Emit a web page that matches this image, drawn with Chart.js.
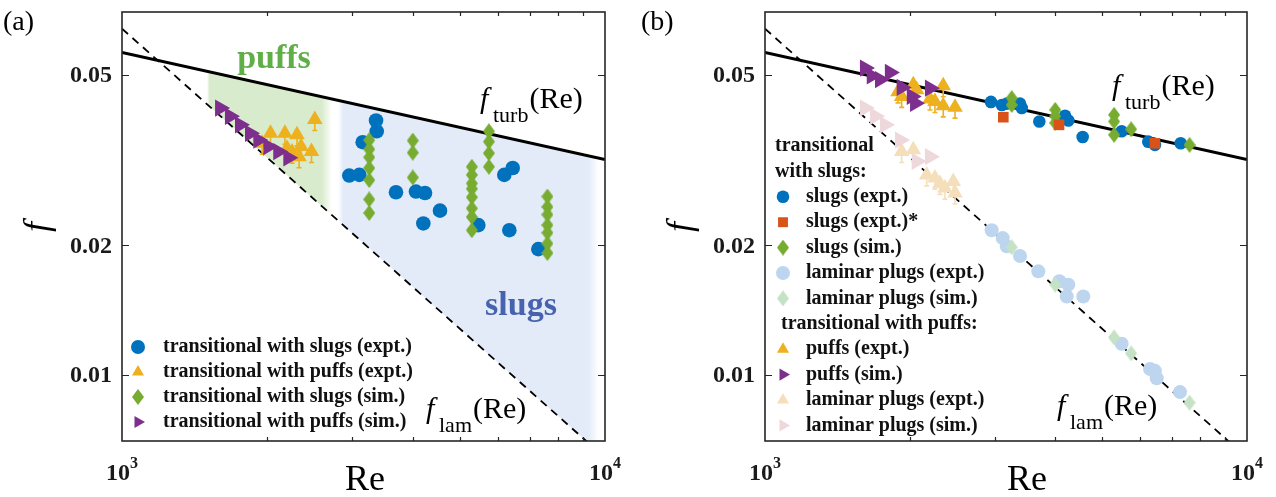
<!DOCTYPE html>
<html>
<head>
<meta charset="utf-8">
<script src="https://cdn.jsdelivr.net/npm/chart.js@4.4.1/dist/chart.umd.min.js"></script>
<style>
html, body { margin: 0; padding: 0; background: #fff; overflow: hidden; }
#wrap { position: relative; width: 1276px; height: 497px; }
canvas { position: absolute; top: 0; }
#chartA { left: 0; }
#chartB { left: 638px; }
</style>
</head>
<body>
<div id="wrap">
  <canvas id="chartA" width="638" height="497"></canvas>
  <canvas id="chartB" width="638" height="497"></canvas>
</div>
<script>
// axes (both panels are log-log with the same limits)
const reMin = 1000, reMax = 10000;
const fMin = 0.007, fMax = 0.07;
const fTicks = [0.01, 0.02, 0.05];
const fTickLabels = ['0.01', '0.02', '0.05'];
const reMajorTicks = [1000, 10000];
const reMajorLabels = [['10', '3'], ['10', '4']];
const reMinorTicks = [2000, 3000, 4000, 5000, 6000, 7000, 8000, 9000];

// f_turb and f_lam lines, end points
const turbRe = [1000, 10000];
const turbF = [0.0563, 0.0317];
const lamRe = [1000, 10000];
const lamF = [0.064, 0.0064];

// shaded zones in panel (a), Re range
const puffZoneRe = [1500, 2720];
const slugZoneRe = [2800, 9700];

// ---- panel (a) ----
const aSlugExptRe = [2955, 3100, 3150, 3357, 3368, 3692, 4061, 4206, 4240, 4554, 5467, 6187, 6338, 6441, 7277];
const aSlugExptF = [0.0291, 0.0292, 0.0348, 0.0391, 0.0369, 0.0266, 0.0267, 0.0225, 0.0265, 0.0241, 0.0223, 0.0292, 0.0217, 0.0303, 0.0196];

const aPuffExptRe = [1950, 2030, 2174, 2196, 2249, 2303, 2326, 2348, 2468, 2507];
const aPuffExptF = [0.0346, 0.0365, 0.0365, 0.0337, 0.0330, 0.0362, 0.0322, 0.0340, 0.0331, 0.0393];

const aSlugSimRe = [3250, 3250, 3250, 3250, 3250, 3250, 3250,
  4000, 4000, 4000,
  5300, 5300, 5300, 5300, 5300, 5300, 5300, 5300,
  5750, 5750, 5750, 5750,
  7600, 7600, 7600, 7600, 7600, 7600, 7600];
const aSlugSimF = [0.0352, 0.0335, 0.0321, 0.0303, 0.0284, 0.0256, 0.0238,
  0.0351, 0.0329, 0.0288,
  0.0305, 0.0292, 0.0279, 0.0271, 0.0259, 0.0244, 0.0233, 0.0217,
  0.0369, 0.0349, 0.0328, 0.0305,
  0.0260, 0.0246, 0.0236, 0.0223, 0.0214, 0.0202, 0.0192];

const aPuffSimRe = [1596, 1673, 1755, 1841, 1915, 2009, 2106, 2210];
const aPuffSimF = [0.0418, 0.0400, 0.0382, 0.0365, 0.0352, 0.0340, 0.0331, 0.0320];

// ---- panel (b) ----
const bSlugExptRe = [2943, 3100, 3174, 3381, 3409, 3708, 4193, 4259, 4561, 5495, 6240, 6442, 7285];
const bSlugExptF = [0.0432, 0.0425, 0.0428, 0.0428, 0.0418, 0.0389, 0.0401, 0.0391, 0.0358, 0.0369, 0.0349, 0.0343, 0.0346];

const bSlugStarRe = [3122, 4074, 6442];
const bSlugStarF = [0.0398, 0.0382, 0.0346];

const bSlugSimRe = [3250, 3250, 4000, 4000, 4000, 5300, 5300, 5300, 5750, 7600];
const bSlugSimF = [0.0441, 0.0425, 0.0414, 0.0400, 0.0386, 0.0403, 0.0389, 0.0362, 0.0373, 0.0343];

const bSlugPlugExptRe = [2953, 3113, 3174, 3381, 3690, 4081, 4259, 4226, 4575, 5495, 6293, 6442, 6496, 7261];
const bSlugPlugExptF = [0.0217, 0.0208, 0.0199, 0.0189, 0.0174, 0.0165, 0.0162, 0.0152, 0.0152, 0.0118, 0.0103, 0.0102, 0.0098, 0.0091];

const bSlugPlugSimRe = [3250, 4000, 5300, 5750, 7600];
const bSlugPlugSimF = [0.0198, 0.0162, 0.0122, 0.0112, 0.0086];

const bPuffExptRe = [1888, 1921, 2031, 2064, 2199, 2252, 2343, 2343, 2479];
const bPuffExptF = [0.0456, 0.0445, 0.0474, 0.0461, 0.0439, 0.0433, 0.0471, 0.0423, 0.0420];

const bPuffSimRe = [1612, 1665, 1732, 1816, 1921, 2016, 2048, 2199];
const bPuffSimF = [0.0518, 0.0497, 0.0487, 0.0506, 0.0467, 0.0445, 0.0429, 0.0465];

const bPuffPlugExptRe = [1921, 2031, 2165, 2252, 2307, 2362, 2458, 2479];
const bPuffPlugExptF = [0.0331, 0.0334, 0.0292, 0.0287, 0.0279, 0.0272, 0.0282, 0.0265];

const bPuffPlugSimRe = [1612, 1692, 1774, 1906, 2064, 2199];
const bPuffPlugSimF = [0.0418, 0.0400, 0.0382, 0.0352, 0.0314, 0.0322];

// colours (MATLAB defaults + faded versions)
const BLUE = '#0072BD', RED = '#D95319', YELLOW = '#EDB120', PURPLE = '#7E2F8E', GREEN = '#77AC30';
const LBLUE = '#bdd5ef', LGREEN = '#c6e2c4', TAN = '#f5dfbb', PINK = '#eed8dc';
const SERIF = '"Liberation Serif", "Times New Roman", serif';

function pts(re, f) {
  return re.map((r, i) => ({ x: r, y: f[i] }));
}

function diamond(color) {
  const c = document.createElement('canvas');
  c.width = 12; c.height = 16;
  const g = c.getContext('2d');
  g.fillStyle = color;
  g.beginPath();
  g.moveTo(6, 0); g.lineTo(12, 8); g.lineTo(6, 16); g.lineTo(0, 8);
  g.closePath();
  g.fill();
  return c;
}

function markers(label, re, f, color, shape, radius, order, rotation) {
  return {
    type: 'scatter',
    label: label,
    data: pts(re, f),
    pointStyle: shape === 'diamond' ? diamond(color) : shape,
    pointRadius: radius,
    pointRotation: rotation || 0,
    backgroundColor: color,
    borderWidth: 0,
    pointBorderWidth: 0,
    order: order
  };
}

function refLine(re, f, dash, width) {
  return {
    type: 'line',
    data: pts(re, f),
    borderColor: '#000',
    borderWidth: width,
    borderDash: dash,
    pointRadius: 0,
    fill: false,
    tension: 0,
    clip: 0,
    order: 20
  };
}

function rgba(c, a) {
  return 'rgba(' + c[0] + ',' + c[1] + ',' + c[2] + ',' + a + ')';
}

function drawFunc(ctx, x, y, sub) {
  ctx.fillStyle = '#000';
  ctx.textAlign = 'left';
  ctx.textBaseline = 'alphabetic';
  ctx.font = 'italic 30px ' + SERIF;
  ctx.fillText('f', x, y);
  ctx.font = '22px ' + SERIF;
  ctx.fillText(sub, x + 13, y + 14);
  const w = ctx.measureText(sub).width;
  ctx.font = '30px ' + SERIF;
  ctx.fillText('(Re)', x + 14 + w, y);
}

function drawMarker(ctx, ds, x, y) {
  ctx.save();
  ctx.fillStyle = ds.backgroundColor;
  Chart.helpers.drawPoint(ctx, {
    pointStyle: ds.pointStyle,
    rotation: ds.pointRotation,
    radius: Math.min(ds.pointRadius, 7),
    borderWidth: 0
  }, x, y);
  ctx.restore();
}

// one plugin per panel; the panel settings stay a plain object (not run through chart options)
function panelPlugin(cfg) {
  return {
    id: 'panel',
    beforeDatasetsDraw(chart) {
      const { ctx, chartArea: a } = chart;
      const sx = chart.scales.x, sy = chart.scales.y;
      cfg.zones.forEach(z => {
        const x1 = sx.getPixelForValue(z.re[0]);
        const x2 = sx.getPixelForValue(z.re[1]);
        ctx.save();
        ctx.beginPath();
        ctx.rect(x1, a.top, x2 - x1, a.bottom - a.top);
        ctx.clip();
        ctx.beginPath();
        ctx.moveTo(sx.getPixelForValue(turbRe[0]), sy.getPixelForValue(turbF[0]));
        ctx.lineTo(sx.getPixelForValue(turbRe[1]), sy.getPixelForValue(turbF[1]));
        ctx.lineTo(sx.getPixelForValue(lamRe[1]), sy.getPixelForValue(lamF[1]));
        ctx.lineTo(sx.getPixelForValue(lamRe[0]), sy.getPixelForValue(lamF[0]));
        ctx.closePath();
        const g = ctx.createLinearGradient(x1, 0, x2, 0);
        g.addColorStop(0, rgba(z.rgb, 0));
        g.addColorStop(z.fade[0], rgba(z.rgb, 1));
        g.addColorStop(1 - z.fade[1], rgba(z.rgb, 1));
        g.addColorStop(1, rgba(z.rgb, 0));
        ctx.fillStyle = g;
        ctx.fill();
        ctx.restore();
      });
    },
    // small whisker under the experimental triangles
    afterDatasetDraw(chart, args) {
      if (!cfg.stems.includes(args.index)) return;
      const { ctx } = chart;
      ctx.save();
      ctx.strokeStyle = chart.data.datasets[args.index].backgroundColor;
      ctx.lineWidth = 1.6;
      ctx.beginPath();
      args.meta.data.forEach(el => {
        ctx.moveTo(el.x, el.y + 4);
        ctx.lineTo(el.x, el.y + 11);
        ctx.moveTo(el.x - 2.5, el.y + 11);
        ctx.lineTo(el.x + 2.5, el.y + 11);
      });
      ctx.stroke();
      ctx.restore();
    },
    afterDatasetsDraw(chart) {
      const { ctx, chartArea: a } = chart;
      const sx = chart.scales.x, sy = chart.scales.y;
      ctx.save();

      // axes box and inward ticks
      ctx.strokeStyle = '#262626';
      ctx.lineWidth = 1.6;
      ctx.strokeRect(a.left, a.top, a.right - a.left, a.bottom - a.top);
      ctx.lineWidth = 1.2;
      ctx.beginPath();
      fTicks.forEach(v => {
        const py = Math.round(sy.getPixelForValue(v)) + 0.5;
        ctx.moveTo(a.left, py); ctx.lineTo(a.left + 7, py);
        ctx.moveTo(a.right, py); ctx.lineTo(a.right - 7, py);
      });
      reMinorTicks.forEach(v => {
        const px = Math.round(sx.getPixelForValue(v)) + 0.5;
        ctx.moveTo(px, a.bottom); ctx.lineTo(px, a.bottom - 4);
        ctx.moveTo(px, a.top); ctx.lineTo(px, a.top + 4);
      });
      ctx.stroke();

      // tick labels
      ctx.fillStyle = '#1a1a1a';
      ctx.font = 'bold 24px ' + SERIF;
      ctx.textAlign = 'right';
      ctx.textBaseline = 'middle';
      fTicks.forEach((v, i) => {
        ctx.fillText(fTickLabels[i], a.left - 10, sy.getPixelForValue(v) + 1);
      });
      ctx.textAlign = 'left';
      ctx.textBaseline = 'alphabetic';
      reMajorTicks.forEach((v, i) => {
        const [base, pow] = reMajorLabels[i];
        ctx.font = 'bold 24px ' + SERIF;
        const w1 = ctx.measureText(base).width;
        ctx.font = 'bold 16px ' + SERIF;
        const w2 = ctx.measureText(pow).width;
        const x0 = sx.getPixelForValue(v) - (w1 + w2) / 2;
        ctx.font = 'bold 24px ' + SERIF;
        ctx.fillText(base, x0, 480);
        ctx.font = 'bold 16px ' + SERIF;
        ctx.fillText(pow, x0 + w1, 468);
      });

      // axis titles
      ctx.fillStyle = '#000';
      ctx.font = '36px ' + SERIF;
      ctx.textAlign = 'center';
      ctx.fillText('Re', cfg.xTitleX, 490);
      ctx.save();
      ctx.translate(a.left - 83, 227);
      ctx.rotate(-Math.PI / 2);
      ctx.font = 'italic 36px ' + SERIF;
      ctx.textBaseline = 'middle';
      ctx.fillText('f', 0, 0);
      ctx.restore();

      // panel tag
      ctx.font = '28px ' + SERIF;
      ctx.textAlign = 'left';
      ctx.textBaseline = 'alphabetic';
      ctx.fillText(cfg.tag, 3, 30);

      // line labels
      drawFunc(ctx, cfg.turbAt[0], cfg.turbAt[1], 'turb');
      drawFunc(ctx, cfg.lamAt[0], cfg.lamAt[1], 'lam');

      // zone labels
      cfg.words.forEach(t => {
        ctx.font = 'bold 34px ' + SERIF;
        ctx.fillStyle = t.color;
        ctx.textAlign = 'center';
        ctx.fillText(t.text, t.x, t.y);
      });

      // legend
      const lg = cfg.legend;
      ctx.font = 'bold 20px ' + SERIF;
      ctx.textBaseline = 'middle';
      ctx.textAlign = 'left';
      lg.rows.forEach((row, i) => {
        const y = lg.y0 + i * lg.step;
        ctx.fillStyle = '#111';
        if (typeof row === 'number') {
          const ds = chart.data.datasets[row];
          drawMarker(ctx, ds, lg.markerX, y);
          ctx.fillStyle = '#111';
          ctx.fillText(ds.label, lg.textX, y);
        } else {
          ctx.fillText(row.text, row.x, y);
        }
      });
      ctx.restore();
    }
  };
}

function baseOptions(padLeft, padRight) {
  return {
    responsive: false,
    animation: false,
    events: [],
    layout: { padding: { left: padLeft, right: padRight, top: 12, bottom: 56 } },
    scales: {
      x: { type: 'logarithmic', min: reMin, max: reMax, display: false },
      y: { type: 'logarithmic', min: fMin, max: fMax, display: false }
    },
    plugins: {
      legend: { display: false },
      tooltip: { enabled: false }
    }
  };
}

// panel (a)
const aDatasets = [
  markers('transitional with slugs (expt.)', aSlugExptRe, aSlugExptF, BLUE, 'circle', 7.3, 3),
  markers('transitional with puffs (expt.)', aPuffExptRe, aPuffExptF, YELLOW, 'triangle', 9, 2),
  markers('transitional with slugs (sim.)', aSlugSimRe, aSlugSimF, GREEN, 'diamond', 8, 1),
  markers('transitional with puffs (sim.)', aPuffSimRe, aPuffSimF, PURPLE, 'triangle', 10, 0, 90),
  refLine(turbRe, turbF, [], 3),
  refLine(lamRe, lamF, [8, 6], 1.8)
];

new Chart(document.getElementById('chartA'), {
  data: { datasets: aDatasets },
  options: baseOptions(122, 33),
  plugins: [panelPlugin({
    tag: '(a)',
    xTitleX: 365,
    turbAt: [480, 108],
    lamAt: [426, 418],
    stems: [1],
    zones: [
      { re: puffZoneRe, rgb: [217, 235, 205], fade: [0.02, 0.08] },
      { re: slugZoneRe, rgb: [227, 235, 248], fade: [0.02, 0.04] }
    ],
    words: [
      { text: 'puffs', x: 274, y: 68, color: '#5fae48' },
      { text: 'slugs', x: 521, y: 315, color: '#4763ae' }
    ],
    legend: { markerX: 138, textX: 163, y0: 347, step: 25, rows: [0, 1, 2, 3] }
  })]
});

// panel (b)
const bDatasets = [
  markers('slugs (expt.)', bSlugExptRe, bSlugExptF, BLUE, 'circle', 6.3, 2),
  markers('slugs (expt.)*', bSlugStarRe, bSlugStarF, RED, 'rect', 7.5, 0),
  markers('slugs (sim.)', bSlugSimRe, bSlugSimF, GREEN, 'diamond', 8, 1),
  markers('laminar plugs (expt.)', bSlugPlugExptRe, bSlugPlugExptF, LBLUE, 'circle', 7, 6),
  markers('laminar plugs (sim.)', bSlugPlugSimRe, bSlugPlugSimF, LGREEN, 'diamond', 8, 5),
  markers('puffs (expt.)', bPuffExptRe, bPuffExptF, YELLOW, 'triangle', 9, 4),
  markers('puffs (sim.)', bPuffSimRe, bPuffSimF, PURPLE, 'triangle', 10, 3, 90),
  markers('laminar plugs (expt.)', bPuffPlugExptRe, bPuffPlugExptF, TAN, 'triangle', 9, 8),
  markers('laminar plugs (sim.)', bPuffPlugSimRe, bPuffPlugSimF, PINK, 'triangle', 10, 7, 90),
  refLine(turbRe, turbF, [], 3),
  refLine(lamRe, lamF, [8, 6], 1.8)
];

new Chart(document.getElementById('chartB'), {
  data: { datasets: bDatasets },
  options: baseOptions(127, 29),
  plugins: [panelPlugin({
    tag: '(b)',
    xTitleX: 1027 - 638,
    turbAt: [1112 - 638, 95],
    lamAt: [1057 - 638, 415],
    stems: [5, 7],
    zones: [],
    words: [],
    legend: {
      markerX: 783 - 638, textX: 806 - 638, y0: 146, step: 25.4,
      rows: [
        { text: 'transitional', x: 775 - 638 },
        { text: 'with slugs:', x: 775 - 638 },
        0, 1, 2, 3, 4,
        { text: 'transitional with puffs:', x: 781 - 638 },
        5, 6, 7, 8
      ]
    }
  })]
});
</script>
</body>
</html>
